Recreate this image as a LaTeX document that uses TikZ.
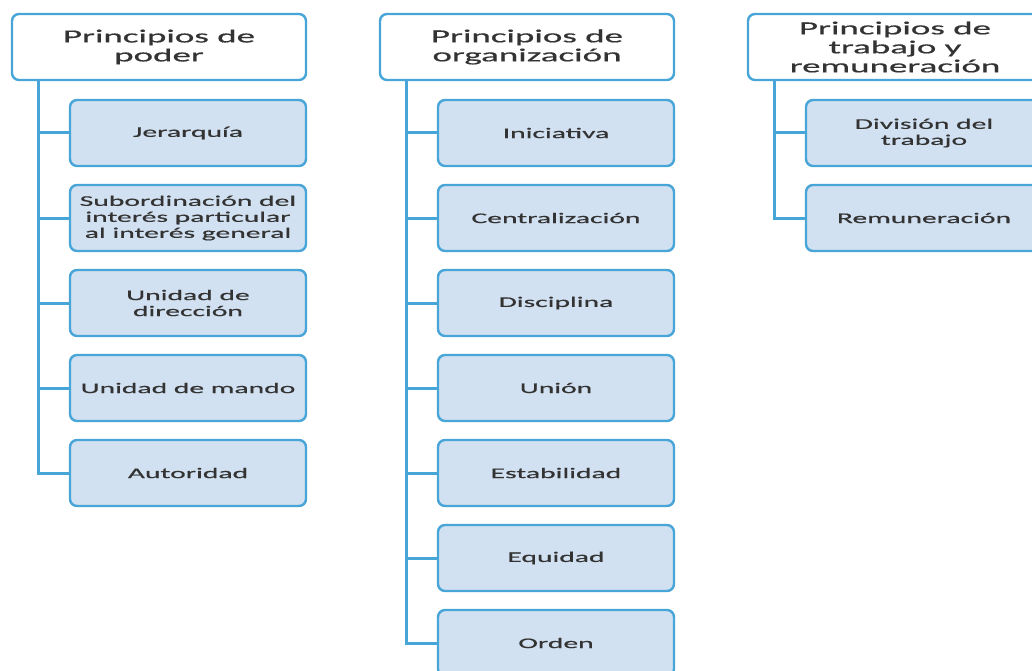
\documentclass[tikz,border=0pt]{standalone}
\usepackage{fontspec}
\setmainfont{Carlito}[FakeStretch=2.0,FakeBold=0.6]
\definecolor{linecol}{HTML}{48A5D8}
\definecolor{boxfill}{HTML}{D2E1F1}
\definecolor{txtcol}{HTML}{333333}

\begin{document}
\begin{tikzpicture}[x=1pt,y=1pt,
  head/.style={draw=linecol, line width=2.4pt, rounded corners=7pt, fill=white,
    minimum width=294pt, minimum height=66pt, align=center, text=txtcol,
    font=\fontsize{18.5}{19}\selectfont, inner sep=0pt},
  leaf/.style={draw=linecol, line width=2.4pt, rounded corners=7pt, fill=boxfill,
    minimum width=236pt, minimum height=66pt, align=center, text=txtcol,
    font=\fontsize{14.8}{16}\selectfont, inner sep=0pt},
  conn/.style={draw=linecol, line width=3pt}]
\useasboundingbox (0,0) rectangle (1032,-671);
\clip (0,0) rectangle (1032,-671);
% cabeceras
\node[head] (poder) at (159,-47) {Principios de\\poder};
\node[head] (org) at (527,-47) {Principios de\\organización};
\node[head] (trab) at (895,-47) {Principios de\\trabajo y\\remuneración};
% principios de poder
\foreach \t [count=\i] in {Jerarquía,
    {Subordinación del\\interés particular\\al interés general},
    {Unidad de\\dirección}, Unidad de mando, Autoridad}
  \node[leaf] (p\i) at (188,-48-85*\i) {\t};
% principios de organizacion
\foreach \t [count=\i] in {Iniciativa, Centralización, Disciplina, Unión,
    Estabilidad, Equidad, Orden}
  \node[leaf] (o\i) at (556,-48-85*\i) {\t};
% principios de trabajo
\foreach \t [count=\i] in {{División del\\trabajo}, Remuneración}
  \node[leaf] (t\i) at (924,-48-85*\i) {\t};
% conectores
\coordinate (pt) at ([xshift=28pt]poder.south west);
\coordinate (ot) at ([xshift=28pt]org.south west);
\coordinate (tt) at ([xshift=28pt]trab.south west);
\draw[conn] (pt) |- (p5.west);
\foreach \i in {1,...,4} \draw[conn] (pt |- p\i.west) -- (p\i.west);
\draw[conn] (ot) |- (o7.west);
\foreach \i in {1,...,6} \draw[conn] (ot |- o\i.west) -- (o\i.west);
\draw[conn] (tt) |- (t2.west);
\draw[conn] (tt |- t1.west) -- (t1.west);
\end{tikzpicture}
\end{document}
